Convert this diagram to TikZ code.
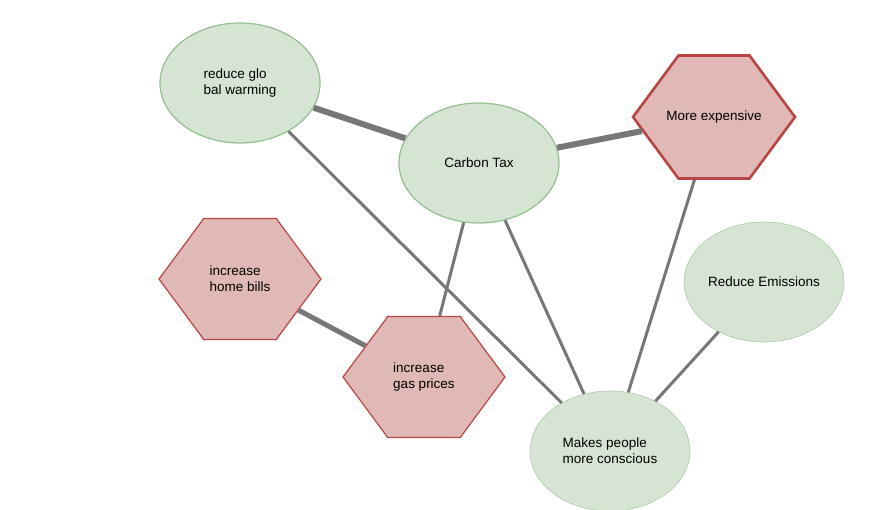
\documentclass[tikz,border=0pt]{standalone}
\usepackage{fontspec}
\setmainfont{Liberation Sans}
\usetikzlibrary{shapes.geometric, shapes.symbols}

\definecolor{leaf}{HTML}{D6E4D3}
\definecolor{leafline}{HTML}{93BF90}
\definecolor{paleline}{HTML}{A9CCA6}
\definecolor{rose}{HTML}{E0B9B6}
\definecolor{roseline}{HTML}{B84444}
\definecolor{wire}{HTML}{777777}

\tikzset{
  label text/.style={align=left, font=\fontsize{13.5}{16}\selectfont},
  idea/.style={ellipse, label text, fill=leaf, draw=leafline, line width=1.2pt,
    minimum width=160pt, minimum height=120pt, inner sep=0pt},
  pale idea/.style={idea, draw=paleline, line width=0.6pt},
  risk/.style={signal, signal to=east and west, signal pointer angle=107,
    label text, fill=rose, draw=roseline, line width=1.2pt,
    minimum width=162pt, minimum height=121pt, inner sep=0pt},
  link/.style={draw=wire, line width=3pt},
  bond/.style={draw=wire, line width=6pt},
}

\begin{document}
\begin{tikzpicture}[x=1pt,y=-1pt]
    \useasboundingbox (0,0) rectangle (890,509);
    \node[idea] (warm) at (240,83) {reduce glo\\bal warming};
    \node[idea] (tax) at (479,163) {Carbon Tax};
    \node[risk, line width=2.6pt, inner xsep=-16pt, minimum height=123pt] (cost) at (714,117) {More expensive};
    \node[risk] (bills) at (240,279) {increase\\home bills};
    \node[risk] (gas) at (424,377) {increase\\gas prices};
    \node[pale idea] (emit) at (764,282) {Reduce Emissions};
    \node[pale idea] (aware) at (610,451) {Makes people\\more conscious};
    \draw[bond] (warm) -- (tax);
    \draw[bond] (tax) -- (cost);
    \draw[bond, line width=5pt] (bills) -- (gas);
    \draw[link] (warm) -- (aware);
    \draw[link] (tax) -- (gas);
    \draw[link] (tax) -- (aware);
    \draw[link] (cost) -- (aware);
    \draw[link] (emit) -- (aware);
  \end{tikzpicture}
\end{document}
